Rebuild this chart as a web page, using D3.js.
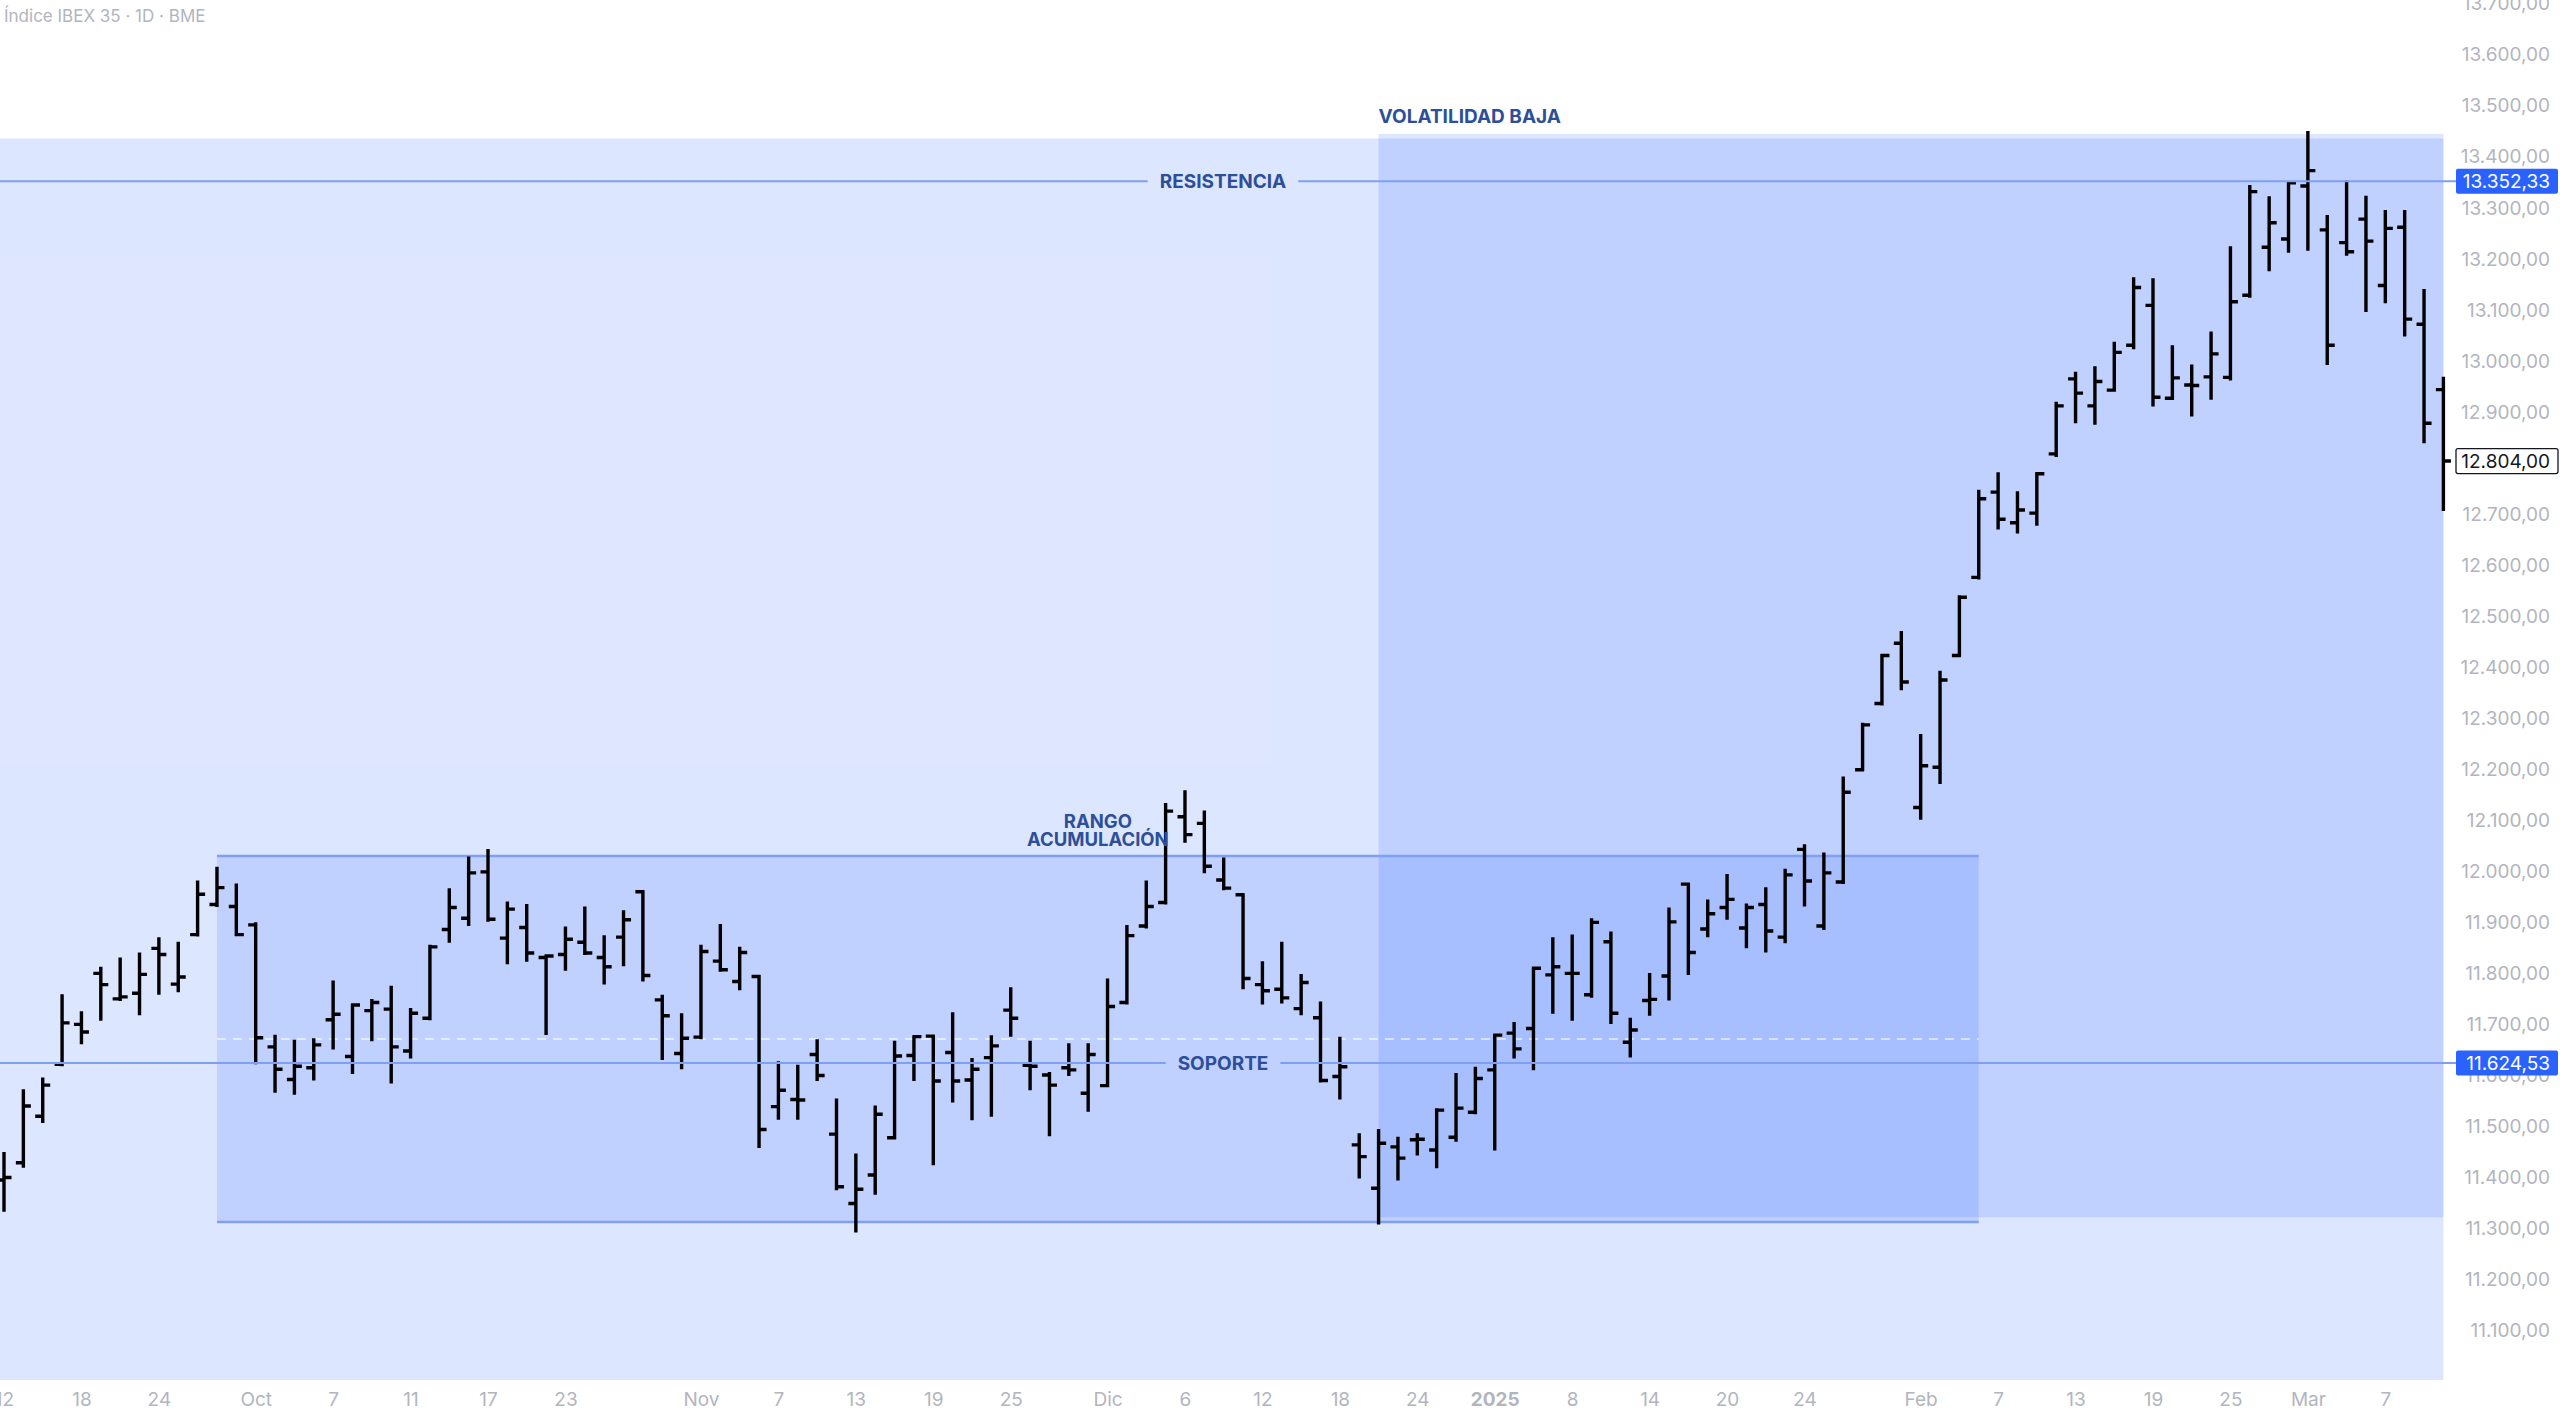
<!DOCTYPE html>
<html>
<head>
<meta charset="utf-8">
<script src="https://cdn.jsdelivr.net/npm/d3@7"></script>
<style>
  body { margin: 0; background: #ffffff; }
  svg { display: block; font-family: Inter, "Noto Sans", sans-serif; }
</style>
</head>
<body>
<svg id="chart" width="2560" height="1414"></svg>
<script>
// Trading sessions shown on the chart (BME, daily)
var dates = [
  "2024-09-12","2024-09-13","2024-09-16","2024-09-17","2024-09-18","2024-09-19","2024-09-20","2024-09-23","2024-09-24","2024-09-25","2024-09-26","2024-09-27","2024-09-30",
  "2024-10-01","2024-10-02","2024-10-03","2024-10-04","2024-10-07","2024-10-08","2024-10-09","2024-10-10","2024-10-11","2024-10-14","2024-10-15","2024-10-16","2024-10-17","2024-10-18","2024-10-21","2024-10-22","2024-10-23","2024-10-24","2024-10-25","2024-10-28","2024-10-29","2024-10-30","2024-10-31",
  "2024-11-01","2024-11-04","2024-11-05","2024-11-06","2024-11-07","2024-11-08","2024-11-11","2024-11-12","2024-11-13","2024-11-14","2024-11-15","2024-11-18","2024-11-19","2024-11-20","2024-11-21","2024-11-22","2024-11-25","2024-11-26","2024-11-27","2024-11-28","2024-11-29",
  "2024-12-02","2024-12-03","2024-12-04","2024-12-05","2024-12-06","2024-12-09","2024-12-10","2024-12-11","2024-12-12","2024-12-13","2024-12-16","2024-12-17","2024-12-18","2024-12-19","2024-12-20","2024-12-23","2024-12-24","2024-12-27","2024-12-30","2024-12-31",
  "2025-01-02","2025-01-03","2025-01-06","2025-01-07","2025-01-08","2025-01-09","2025-01-10","2025-01-13","2025-01-14","2025-01-15","2025-01-16","2025-01-17","2025-01-20","2025-01-21","2025-01-22","2025-01-23","2025-01-24","2025-01-27","2025-01-28","2025-01-29","2025-01-30","2025-01-31",
  "2025-02-03","2025-02-04","2025-02-05","2025-02-06","2025-02-07","2025-02-10","2025-02-11","2025-02-12","2025-02-13","2025-02-14","2025-02-17","2025-02-18","2025-02-19","2025-02-20","2025-02-21","2025-02-24","2025-02-25","2025-02-26","2025-02-27","2025-02-28",
  "2025-03-03","2025-03-04","2025-03-05","2025-03-06","2025-03-07","2025-03-10","2025-03-11","2025-03-12"
];

var open = [
  11395,11429,11520,11622,11700,11800,11750,11761,11849,11779,11876,11935,11931,
  11895,11656,11592,11615,11709,11637,11727,11730,11648,11712,11886,11908,11999,11869,11890,11831,11837,11861,11831,11871,11960,
  11748,11643,11675,11824,11784,11794,11539,11553,11641,11485,11349,11405,11478,11639,11677,11645,11591,11635,11728,11620,11601,
  11615,11565,11580,11743,11893,11939,12107,12094,11983,11954,11778,11769,11731,11713,11598,11464,11379,11460,11474,11454,
  11479,11528,11611,11683,11692,11797,11800,11758,11862,11665,11747,11795,11975,11887,11929,11889,11935,11871,12043,11893,11979,
  12199,12329,12447,12125,12204,12423,12576,12743,12683,12702,12818,12965,12912,12943,13031,13109,12927,12953,12969,12968,13129,13223,13239,13343,
  13257,13232,13278,13148,13262,13072,12944
];
var high = [
  11448,11571,11594,11757,11724,11811,11829,11839,11869,11860,11980,12007,11974,
  11898,11678,11668,11671,11784,11738,11748,11774,11730,11854,11965,12027,12042,11939,11934,11834,11890,11929,11873,11922,11961,
  11756,11720,11854,11895,11850,11795,11626,11619,11669,11553,11445,11539,11666,11676,11677,11722,11632,11677,11771,11666,11605,
  11661,11661,11788,11893,11980,12132,12157,12117,12025,11954,11822,11860,11797,11743,11674,11485,11493,11478,11485,11534,
  11603,11615,11679,11703,11810,11869,11874,11906,11880,11711,11799,11927,11975,11943,11993,11935,11967,12003,12051,12035,12184,
  12289,12424,12469,12267,12391,12539,12746,12780,12743,12780,12918,12977,12988,13036,13162,13160,13029,12991,13056,13223,13343,13321,13350,13449,
  13284,13352,13322,13294,13294,13139,12967
];
var low = [
  11335,11421,11509,11620,11663,11709,11748,11720,11760,11765,11874,11932,11875,
  11624,11568,11564,11592,11653,11605,11669,11586,11635,11710,11862,11895,11903,11820,11825,11681,11807,11838,11780,11816,11786,
  11632,11614,11673,11805,11769,11460,11515,11515,11591,11377,11294,11368,11477,11591,11426,11549,11514,11521,11678,11573,11483,
  11601,11531,11579,11741,11890,11937,12058,11998,11965,11771,11741,11743,11720,11588,11555,11400,11310,11396,11445,11420,
  11472,11526,11455,11635,11612,11723,11709,11754,11703,11637,11719,11749,11799,11873,11907,11851,11843,11861,11933,11887,11977,
  12199,12327,12357,12103,12173,12423,12574,12672,12664,12679,12814,12880,12877,12942,13025,12913,12926,12893,12926,12964,13126,13178,13214,13218,
  12994,13208,13098,13115,13050,12841,12708
];
var close = [
  11400,11540,11581,11703,11685,11778,11754,11798,11837,11793,11955,11968,11876,
  11674,11612,11618,11660,11720,11738,11743,11656,11722,11852,11929,11997,11906,11926,11840,11834,11867,11840,11813,11905,11796,
  11717,11673,11843,11807,11841,11494,11571,11552,11600,11382,11377,11524,11638,11676,11589,11589,11612,11658,11712,11618,11581,
  11611,11641,11735,11874,11931,12118,12072,12010,11967,11790,11766,11752,11782,11590,11617,11441,11467,11438,11475,11532,
  11536,11594,11679,11652,11810,11813,11800,11900,11722,11689,11749,11901,11841,11917,11945,11929,11883,11993,11981,11997,12155,
  12287,12423,12371,12207,12375,12537,12730,12690,12708,12779,12912,12937,12960,13017,13144,12929,12967,12952,13014,13116,13332,13271,13349,13373,
  13031,13214,13235,13260,13082,12878,12804
];

// Axis labels
var tickDates = ["2024-09-12","2024-09-18","2024-09-24","2024-10-01","2024-10-07","2024-10-11","2024-10-17","2024-10-23",
  "2024-11-01","2024-11-07","2024-11-13","2024-11-19","2024-11-25","2024-12-02","2024-12-06","2024-12-12","2024-12-18","2024-12-24",
  "2025-01-02","2025-01-08","2025-01-14","2025-01-20","2025-01-24","2025-02-03","2025-02-07","2025-02-13","2025-02-19","2025-02-25",
  "2025-03-03","2025-03-07"];
var tickLabels = ["12","18","24","Oct","7","11","17","23","Nov","7","13","19","25","Dic","6","12","18","24",
  "2025","8","14","20","24","Feb","7","13","19","25","Mar","7"];
var priceTicks = [11100,11200,11300,11400,11500,11600,11700,11800,11900,12000,12100,12200,12300,
  12400,12500,12600,12700,12800,12900,13000,13100,13200,13300,13400,13500,13600,13700];

// Drawings
var resistanceLevel = 13352.33;
var supportLevel = 11624.53;
var lastPrice = 12804;
var zoneTop = 13436;
var rangeDates = ["2024-09-27", "2025-02-06"];
var rangePrices = [11313, 12030];
var volDates = ["2024-12-20", "2025-03-12"];
var volPrices = [11322, 13445];

var plotRight = 2455;
var plotBottom = 1380;
var lineBlue = "#7f9ff2";
var textBlue = "#2d4f99";
var axisGrey = "#b2b5be";

var es = d3.formatLocale({decimal: ",", thousands: ".", grouping: [3], currency: ["", "€"]});
var fmt = es.format(",.2f");

var svg = d3.select("#chart");

var x = d3.scalePoint().domain(dates).range([4, 2443.4]);
var y = d3.scaleLinear().domain([11100, 13700]).range([1330.6, 3.8]);

svg.append("rect")
    .attr("width", 2560)
    .attr("height", 1414)
    .attr("fill", "#ffffff");

svg.append("clipPath").attr("id", "plot")
  .append("rect")
    .attr("x", 0).attr("y", 0)
    .attr("width", plotRight).attr("height", plotBottom);

var plot = svg.append("g").attr("clip-path", "url(#plot)");

// Background zone
plot.append("rect")
    .attr("x", 0)
    .attr("y", y(zoneTop))
    .attr("width", x(dates[dates.length - 1]))
    .attr("height", plotBottom - y(zoneTop))
    .attr("fill", "#2962ff")
    .attr("fill-opacity", 0.155);

// Accumulation range box
var rx0 = x(rangeDates[0]), rx1 = x(rangeDates[1]);
plot.append("rect")
    .attr("x", rx0)
    .attr("y", y(rangePrices[1]))
    .attr("width", rx1 - rx0)
    .attr("height", y(rangePrices[0]) - y(rangePrices[1]))
    .attr("fill", "#2962ff")
    .attr("fill-opacity", 0.16);

// Low volatility box
var vx0 = x(volDates[0]), vx1 = x(volDates[1]);
plot.append("rect")
    .attr("x", vx0)
    .attr("y", y(volPrices[1]))
    .attr("width", vx1 - vx0)
    .attr("height", y(volPrices[0]) - y(volPrices[1]))
    .attr("fill", "#2962ff")
    .attr("fill-opacity", 0.16);

// Range borders and mid line
rangePrices.forEach(function(p) {
  plot.append("line")
      .attr("x1", rx0).attr("x2", rx1)
      .attr("y1", y(p)).attr("y2", y(p))
      .attr("stroke", lineBlue)
      .attr("stroke-width", 2.5);
});

plot.append("line")
    .attr("x1", rx0).attr("x2", rx1)
    .attr("y1", y((rangePrices[0] + rangePrices[1]) / 2))
    .attr("y2", y((rangePrices[0] + rangePrices[1]) / 2))
    .attr("stroke", "#ffffff")
    .attr("stroke-opacity", 0.75)
    .attr("stroke-width", 1.5)
    .attr("stroke-dasharray", "9,7");

// Support / resistance with the label cut into the line
function levelLine(level, label) {
  var cx = 1223;
  var t = svg.append("text")
      .text(label)
      .attr("x", cx)
      .attr("y", y(level))
      .attr("dy", "0.36em")
      .attr("text-anchor", "middle")
      .style("font-size", "19px")
      .style("font-weight", 700)
      .style("fill", textBlue);
  var bb = t.node().getBBox();
  svg.insert("line", "text")
      .attr("x1", 0).attr("x2", bb.x - 12)
      .attr("y1", y(level)).attr("y2", y(level))
      .attr("stroke", lineBlue).attr("stroke-width", 2);
  svg.insert("line", "text")
      .attr("x1", bb.x + bb.width + 12).attr("x2", plotRight + 2)
      .attr("y1", y(level)).attr("y2", y(level))
      .attr("stroke", lineBlue).attr("stroke-width", 2);
}
levelLine(resistanceLevel, "RESISTENCIA");
levelLine(supportLevel, "SOPORTE");

// Box labels
svg.append("text")
    .attr("x", (rx0 + rx1) / 2)
    .attr("y", y(rangePrices[1]) - 28)
    .attr("text-anchor", "middle")
    .style("font-size", "18.5px")
    .style("font-weight", 700)
    .style("fill", textBlue)
    .text("RANGO");
svg.append("text")
    .attr("x", (rx0 + rx1) / 2)
    .attr("y", y(rangePrices[1]) - 10)
    .attr("text-anchor", "middle")
    .style("font-size", "18.5px")
    .style("font-weight", 700)
    .style("fill", textBlue)
    .text("ACUMULACIÓN");

svg.append("text")
    .attr("x", vx0)
    .attr("y", y(volPrices[1]) - 11)
    .style("font-size", "19px")
    .style("font-weight", 700)
    .style("fill", textBlue)
    .text("VOLATILIDAD BAJA");

// OHLC bars
var bars = dates.map(function(d, i) {
  return {date: d, o: open[i], h: high[i], l: low[i], c: close[i]};
});

plot.append("g")
  .selectAll("path")
  .data(bars)
  .join("path")
    .attr("d", function(d) {
      var cx = x(d.date);
      return "M" + cx + "," + (y(d.h) - 1) + "V" + (y(d.l) + 1) +
             "M" + (cx - 7.5) + "," + y(d.o) + "H" + (cx + 1.5) +
             "M" + (cx - 1.5) + "," + y(d.c) + "H" + (cx + 7.5);
    })
    .attr("fill", "none")
    .attr("stroke", "#000000")
    .attr("stroke-width", 3.4);

// Price axis
var yAxis = svg.append("g")
    .attr("transform", "translate(2550,0)")
    .call(d3.axisLeft(y).tickValues(priceTicks).tickSize(0).tickPadding(0).tickFormat(fmt));
yAxis.select(".domain").remove();
yAxis.selectAll("text")
    .style("font-size", "19px")
    .style("font-family", "Inter, 'Noto Sans', sans-serif")
    .style("fill", axisGrey);

// Time axis
var xAxis = svg.append("g")
    .attr("transform", "translate(0,1392)")
    .call(d3.axisBottom(x).tickValues(tickDates).tickSize(0).tickPadding(0)
      .tickFormat(function(d, i) { return tickLabels[i]; }));
xAxis.select(".domain").remove();
xAxis.selectAll("text")
    .style("font-size", "19px")
    .style("font-family", "Inter, 'Noto Sans', sans-serif")
    .style("fill", axisGrey)
    .style("font-weight", function(d, i) { return tickLabels[i] === "2025" ? 700 : 400; });

// Price tags on the axis
function priceTag(level, bg, fg, border) {
  svg.append("rect")
      .attr("x", 2456)
      .attr("y", y(level) - 12.5)
      .attr("width", 102)
      .attr("height", 25)
      .attr("rx", 2)
      .attr("fill", bg)
      .attr("stroke", border)
      .attr("stroke-width", border === "none" ? 0 : 1.3);
  svg.append("text")
      .attr("x", 2550)
      .attr("y", y(level))
      .attr("dy", "0.36em")
      .attr("text-anchor", "end")
      .style("font-size", "19px")
      .style("fill", fg)
      .text(fmt(level));
}
priceTag(resistanceLevel, "#2962ff", "#ffffff", "none");
priceTag(supportLevel, "#2962ff", "#ffffff", "none");
priceTag(lastPrice, "#ffffff", "#131722", "#131722");

// Title
svg.append("text")
    .attr("x", 4)
    .attr("y", 22)
    .style("font-size", "17px")
    .style("fill", axisGrey)
    .text("Índice IBEX 35 · 1D · BME");
</script>
</body>
</html>
